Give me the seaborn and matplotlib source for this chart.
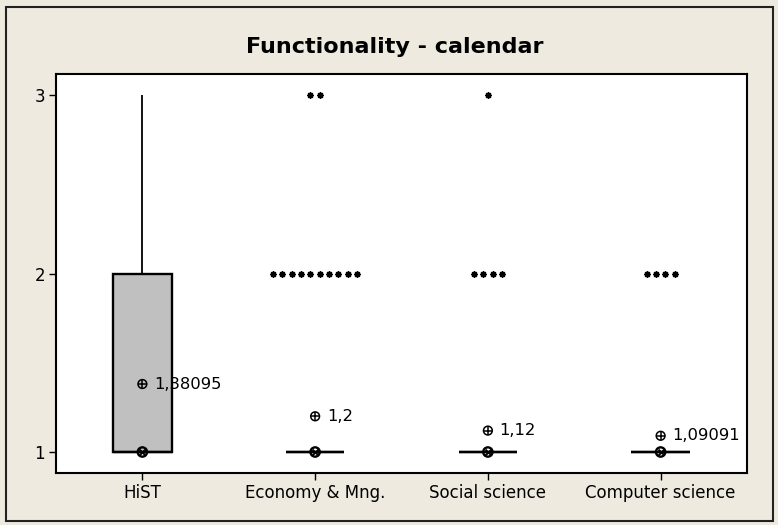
import numpy as np
import pandas as pd
import matplotlib
matplotlib.use("Agg")
import matplotlib.pyplot as plt
import seaborn as sns
from matplotlib.patches import Rectangle

groups = ["HiST", "Economy & Mng.", "Social science", "Computer science"]
values = [1, 2, 3]
counts_1 = [15, 58, 45, 40]
counts_2 = [4, 10, 4, 4]
counts_3 = [2, 2, 1, 0]
yticks = [1, 2, 3]

rows = []
for g, c1, c2, c3 in zip(groups, counts_1, counts_2, counts_3):
    for v, c in zip(values, [c1, c2, c3]):
        rows += [(g, v)] * c
df = pd.DataFrame(rows, columns=["group", "value"])

sns.set_style("white")
plt.rcParams["font.family"] = ["DejaVu Sans"]
bg = "#EEEAE0"
fig = plt.figure(figsize=(7.78, 5.25), dpi=100, facecolor=bg)
ax = fig.add_axes([56/778, 1-472.7/525, (747-56)/778, (472.7-74)/525])
ax.set_facecolor("white")

sns.boxplot(data=df, x="group", y="value", order=groups, color="#C0C0C0",
            linecolor="black", linewidth=1.7, width=0.34, showfliers=False,
            showcaps=False, whis=1.5, saturation=1, ax=ax,
            whiskerprops=dict(linewidth=1.3),
            medianprops=dict(color="black", linewidth=1.7))

# outliers (Minitab-style asterisks, stacked side by side)
step = 0.054
for i, g in enumerate(groups):
    sub = df[df.group == g]["value"]
    q1, q3 = np.percentile(sub, [25, 75])
    iqr = q3 - q1
    lo, hi = q1 - 1.5*iqr, q3 + 1.5*iqr
    out = sub[(sub < lo) | (sub > hi)]
    for v, c in out.value_counts().items():
        xs = i + (np.arange(c) - (c-1)/2) * step
        ax.scatter(xs, [v]*c, marker=(8, 2, 0), s=13, color="black", linewidths=1.3, zorder=5)
    med = np.median(sub)
    mean = sub.mean()
    # median symbol (circle with x)
    ax.scatter([i], [med], marker="o", s=45, facecolors="none", edgecolors="black", linewidths=1.7, zorder=6)
    ax.scatter([i], [med], marker="x", s=18, color="black", linewidths=1.4, zorder=6)
    # mean symbol (circle with +)
    ax.scatter([i], [mean], marker="o", s=40, facecolors="none", edgecolors="black", linewidths=1.1, zorder=6)
    ax.scatter([i], [mean], marker="+", s=38, color="black", linewidths=1.1, zorder=6)
    lab = ("%.6g" % mean).replace(".", ",")
    ax.annotate(lab, (i, mean), xytext=(8.5, 0), textcoords="offset points",
                va="center", ha="left", fontsize=11.8, color="black")

ax.set_xlim(-0.5, 3.5)
ax.set_ylim(0.884, 3.118)
ax.set_yticks(yticks)
ax.set_yticklabels([str(t) for t in yticks])
ax.set_xlabel("")
ax.set_ylabel("")
for s in ax.spines.values():
    s.set_color("black")
    s.set_linewidth(1.5)
ax.tick_params(axis="both", direction="out", length=5, width=1, colors="black",
               labelsize=12, pad=3, left=True, bottom=True)

fig.text(395/778, 1-47/525, "Functionality - calendar", ha="center", va="center",
         fontsize=16, fontweight="bold", color="black")
fig.patches.append(Rectangle((6/778, 4/525), 767/778, 514/525, transform=fig.transFigure,
                             fill=False, edgecolor="#222222", linewidth=1.5))

fig.savefig("out.png", dpi=100, facecolor=bg)
